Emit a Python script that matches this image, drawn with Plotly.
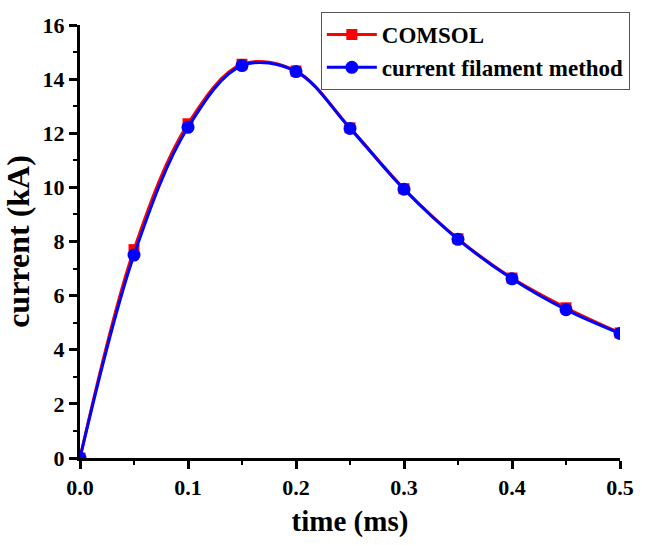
import plotly.graph_objects as go

# time samples (ms)
time_ms = [0.0, 0.05, 0.10, 0.15, 0.20, 0.25, 0.30, 0.35, 0.40, 0.45, 0.50]
# COMSOL reference current (kA)
comsol_kA = [0.0, 7.70, 12.35, 14.55, 14.30, 12.20, 9.95, 8.10, 6.65, 5.55, 4.62]
# current filament method (kA)
filament_kA = [0.0, 7.50, 12.22, 14.50, 14.28, 12.18, 9.93, 8.08, 6.62, 5.48, 4.60]

x_ticks = [0.0, 0.1, 0.2, 0.3, 0.4, 0.5]
x_tick_text = ["0.0", "0.1", "0.2", "0.3", "0.4", "0.5"]
y_ticks = [0, 2, 4, 6, 8, 10, 12, 14, 16]

FONT = "Liberation Serif, Times New Roman, serif"

fig = go.Figure()
fig.add_trace(go.Scatter(
    x=time_ms, y=comsol_kA, name="COMSOL",
    mode="lines+markers",
    line=dict(color="#ff0000", width=3, shape="spline", smoothing=1.0),
    marker=dict(symbol="square", size=11, color="#ff0000"),
))
fig.add_trace(go.Scatter(
    x=time_ms, y=filament_kA, name="current filament method",
    mode="lines+markers",
    line=dict(color="#0000ff", width=3, shape="spline", smoothing=1.0),
    marker=dict(symbol="circle", size=13, color="#0000ff"),
))

axis_common = dict(
    showline=True, linecolor="black", linewidth=3,
    ticks="outside", ticklen=8, tickwidth=3, tickcolor="black",
    showgrid=False, zeroline=False, mirror=False,
    tickfont=dict(family=FONT, size=22, color="black", weight="bold"),
)

fig.update_xaxes(
    range=[0, 0.5], tickvals=x_ticks, ticktext=x_tick_text,
    minor=dict(ticks="outside", ticklen=4, tickwidth=2, tickcolor="black", dtick=0.05, tick0=0),
    title=dict(text="time (ms)", font=dict(family=FONT, size=29, color="black", weight="bold"), standoff=12),
    **axis_common,
)
fig.update_yaxes(
    range=[0, 16], tickvals=y_ticks,
    minor=dict(ticks="outside", ticklen=4, tickwidth=2, tickcolor="black", dtick=1, tick0=0),
    title=dict(text="current (kA)", font=dict(family=FONT, size=32, color="black", weight="bold"), standoff=8),
    **axis_common,
)

fig.update_layout(
    width=646, height=545,
    margin=dict(l=80, r=17, t=23, b=83),
    plot_bgcolor="white", paper_bgcolor="white",
    font=dict(family=FONT, color="black"),
    legend=dict(
        x=0.446, y=1.03, xanchor="left", yanchor="top",
        bgcolor="white", bordercolor="#555555", borderwidth=1,
        font=dict(family=FONT, size=23, color="black", weight="bold"),
        tracegroupgap=0, itemwidth=50,
    ),
)

fig.write_html("out.html")
